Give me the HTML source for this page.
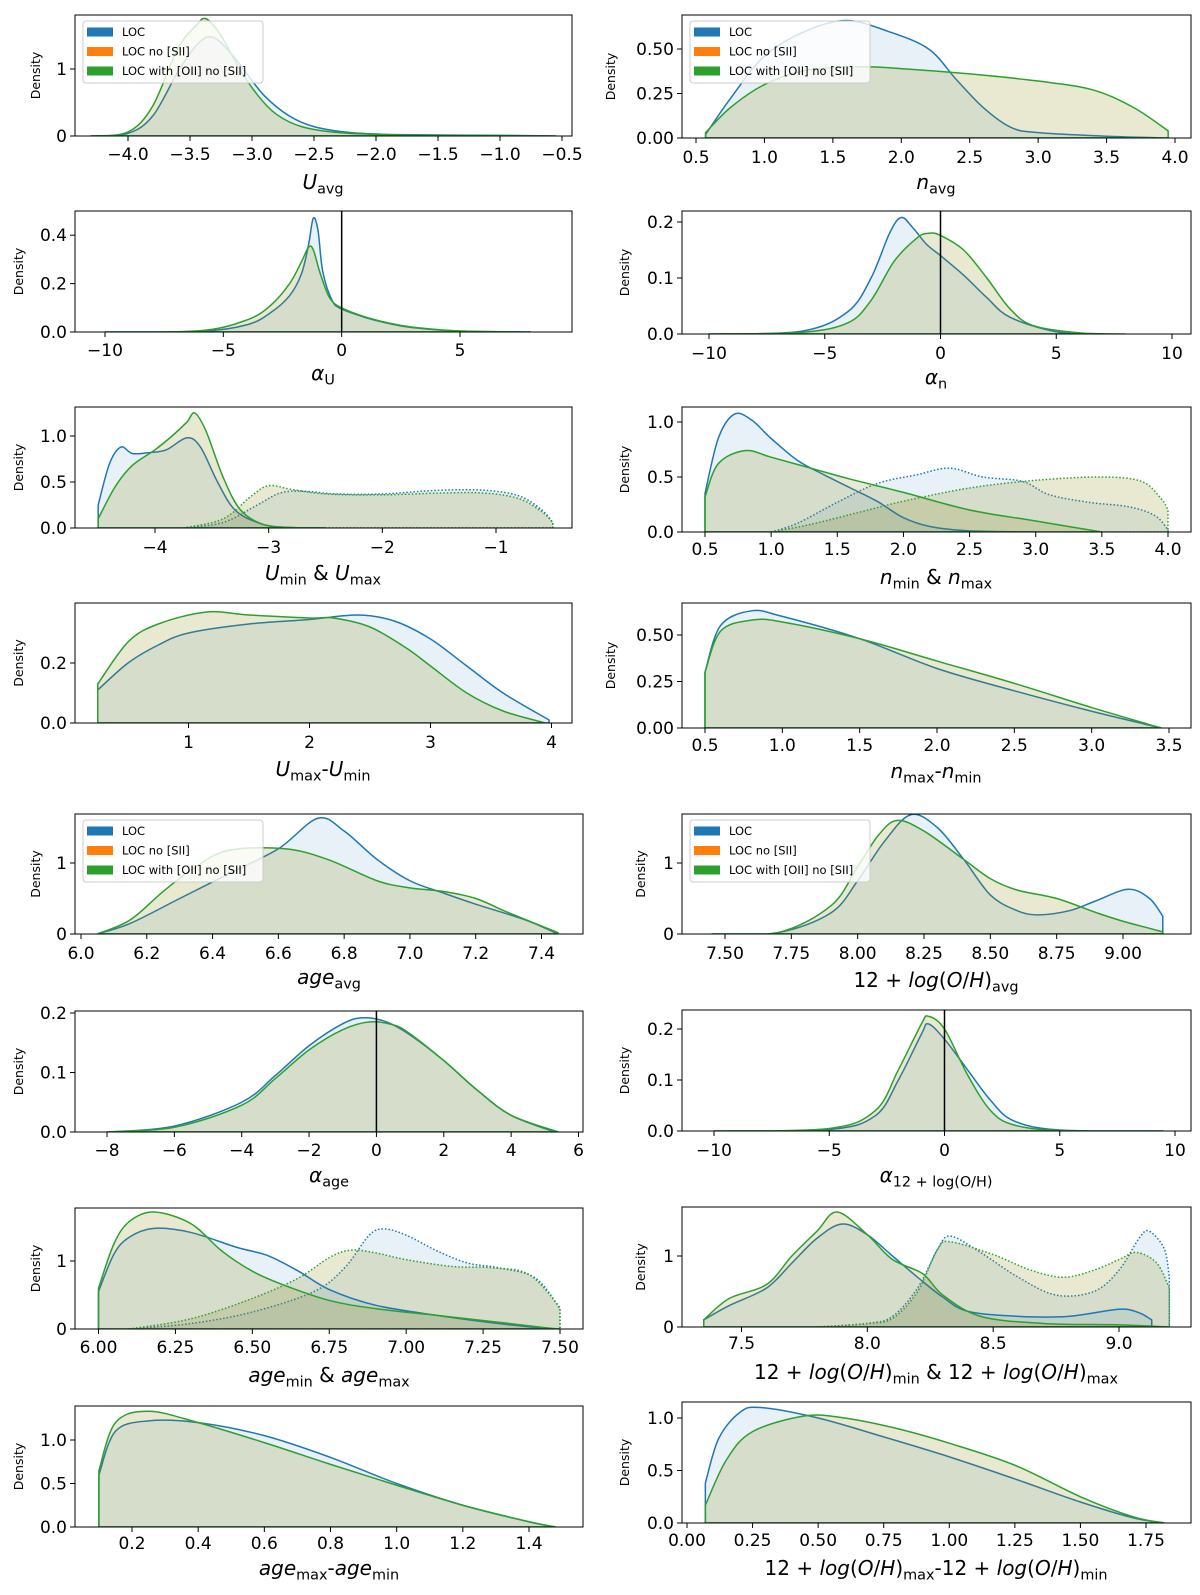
<!DOCTYPE html>
<html><head><meta charset="utf-8">
<style>
html,body{margin:0;padding:0;background:#fff;}
#wrap{position:relative;width:1200px;height:1595px;overflow:hidden;font-family:"DejaVu Sans","Liberation Sans",sans-serif;}
svg{position:absolute;left:0;top:0;}
.lbl{position:absolute;transform:translate(-50%,-50%);white-space:nowrap;font-size:20px;color:#000;}
.lbl sub{font-size:0.72em;vertical-align:-0.3em;line-height:0;}
.lbl i{font-style:oblique;}
</style></head>
<body><div id="wrap">
<svg id="chart" width="1200" height="1595"></svg>
<div class="lbl" style="left:323px;top:182px"><i>U</i><sub>avg</sub></div>
<div class="lbl" style="left:936px;top:182px"><i>n</i><sub>avg</sub></div>
<div class="lbl" style="left:323px;top:373px"><i>α</i><sub>U</sub></div>
<div class="lbl" style="left:936px;top:377px"><i>α</i><sub>n</sub></div>
<div class="lbl" style="left:323px;top:573px"><i>U</i><sub>min</sub> &amp; <i>U</i><sub>max</sub></div>
<div class="lbl" style="left:936px;top:577px"><i>n</i><sub>min</sub> &amp; <i>n</i><sub>max</sub></div>
<div class="lbl" style="left:323px;top:769px"><i>U</i><sub>max</sub>-<i>U</i><sub>min</sub></div>
<div class="lbl" style="left:936px;top:771px"><i>n</i><sub>max</sub>-<i>n</i><sub>min</sub></div>
<div class="lbl" style="left:329px;top:977px"><i>age</i><sub>avg</sub></div>
<div class="lbl" style="left:936px;top:980px">12 + <i>log</i>(<i>O</i>/<i>H</i>)<sub>avg</sub></div>
<div class="lbl" style="left:329px;top:1175px"><i>α</i><sub>age</sub></div>
<div class="lbl" style="left:936px;top:1175px"><i>α</i><sub>12 + log(O/H)</sub></div>
<div class="lbl" style="left:329px;top:1375px"><i>age</i><sub>min</sub> &amp; <i>age</i><sub>max</sub></div>
<div class="lbl" style="left:936px;top:1372px">12 + <i>log</i>(<i>O</i>/<i>H</i>)<sub>min</sub> &amp; 12 + <i>log</i>(<i>O</i>/<i>H</i>)<sub>max</sub></div>
<div class="lbl" style="left:329px;top:1568px"><i>age</i><sub>max</sub>-<i>age</i><sub>min</sub></div>
<div class="lbl" style="left:936px;top:1568px">12 + <i>log</i>(<i>O</i>/<i>H</i>)<sub>max</sub>-12 + <i>log</i>(<i>O</i>/<i>H</i>)<sub>min</sub></div>
</div>
<script>
// ---- data (x, density) pairs per curve ----
const uavgBlue=[[-4.3,0],[-4.0,0.04],[-3.8,0.3],[-3.6,0.95],[-3.45,1.35],[-3.33,1.48],[-3.2,1.3],[-3.05,0.95],[-2.9,0.6],[-2.7,0.3],[-2.5,0.14],[-2.2,0.05],[-1.8,0.02],[-1.0,0.01],[-0.55,0]];
const uavgGreen=[[-4.3,0],[-4.0,0.06],[-3.8,0.45],[-3.6,1.3],[-3.45,1.65],[-3.37,1.75],[-3.25,1.5],[-3.1,1.0],[-2.95,0.6],[-2.8,0.32],[-2.6,0.14],[-2.3,0.05],[-1.8,0.015],[-1.0,0.005],[-0.55,0]];
const alphaUBlue=[[-10,0],[-6,0.003],[-4,0.03],[-3,0.08],[-2.2,0.15],[-1.7,0.24],[-1.4,0.36],[-1.2,0.47],[-1.0,0.42],[-0.8,0.25],[-0.4,0.13],[0,0.095],[1,0.06],[2,0.035],[3,0.018],[5,0.004],[8,0]];
const alphaUGreen=[[-10,0],[-6,0.005],[-4,0.05],[-3,0.11],[-2.2,0.2],[-1.7,0.29],[-1.4,0.35],[-1.2,0.34],[-0.9,0.24],[-0.5,0.14],[0,0.1],[1,0.062],[2,0.037],[3,0.02],[5,0.004],[8,0]];
const uminBlue=[[-4.5,0.25],[-4.4,0.7],[-4.3,0.88],[-4.2,0.81],[-4.05,0.82],[-3.9,0.85],[-3.72,0.98],[-3.6,0.88],[-3.45,0.5],[-3.3,0.2],[-3.1,0.06],[-2.9,0.01],[-2.5,0]];
const uminGreen=[[-4.5,0.1],[-4.35,0.45],[-4.2,0.68],[-4.0,0.85],[-3.85,1.0],[-3.72,1.15],[-3.65,1.25],[-3.55,1.05],[-3.4,0.55],[-3.25,0.2],[-3.05,0.04],[-2.8,0.005],[-2.5,0]];
const umaxBlue=[[-3.75,0],[-3.4,0.06],[-3.1,0.25],[-2.9,0.38],[-2.7,0.4],[-2.4,0.37],[-2,0.37],[-1.5,0.41],[-1.1,0.41],[-0.8,0.35],[-0.6,0.2],[-0.5,0.06]];
const umaxGreen=[[-3.75,0],[-3.4,0.1],[-3.15,0.35],[-3.0,0.46],[-2.8,0.42],[-2.5,0.37],[-2,0.36],[-1.5,0.38],[-1.1,0.38],[-0.8,0.32],[-0.6,0.18],[-0.5,0.06]];
const udiffBlue=[[0.25,0.11],[0.5,0.2],[0.75,0.26],[1.0,0.3],[1.5,0.33],[2.0,0.345],[2.4,0.36],[2.7,0.34],[3.0,0.28],[3.3,0.19],[3.6,0.1],[3.98,0.01]];
const udiffGreen=[[0.25,0.13],[0.5,0.27],[0.75,0.33],[1.15,0.37],[1.5,0.36],[2.0,0.35],[2.2,0.35],[2.5,0.32],[2.8,0.25],[3.0,0.19],[3.3,0.1],[3.6,0.04],[3.95,0]];
const ageavgBlue=[[6.05,0],[6.15,0.15],[6.3,0.5],[6.45,0.85],[6.6,1.2],[6.72,1.63],[6.8,1.45],[6.9,1.05],[7.0,0.75],[7.1,0.58],[7.2,0.42],[7.35,0.2],[7.45,0]];
const ageavgGreen=[[6.05,0],[6.15,0.2],[6.25,0.6],[6.35,0.95],[6.45,1.18],[6.62,1.2],[6.75,1.05],[6.9,0.75],[7.0,0.65],[7.1,0.6],[7.2,0.5],[7.3,0.3],[7.45,0.02]];
const alphaAgeBlue=[[-8,0],[-6,0.01],[-4,0.05],[-3,0.095],[-2,0.145],[-1,0.182],[-0.4,0.192],[0.3,0.185],[1,0.163],[2,0.12],[3,0.07],[4,0.028],[5.3,0]];
const alphaAgeGreen=[[-8,0],[-6,0.008],[-4,0.045],[-3,0.09],[-2,0.138],[-1,0.172],[-0.2,0.185],[0.5,0.18],[1,0.165],[2,0.12],[3,0.07],[4,0.028],[5.4,0]];
const ageminBlue=[[6.0,0.55],[6.05,1.1],[6.1,1.35],[6.18,1.48],[6.3,1.42],[6.45,1.2],[6.55,1.08],[6.65,0.85],[6.75,0.58],[6.9,0.35],[7.1,0.2],[7.3,0.08],[7.45,0.01],[7.5,0]];
const ageminGreen=[[6.0,0.6],[6.05,1.25],[6.1,1.58],[6.18,1.72],[6.3,1.55],[6.4,1.15],[6.5,0.85],[6.6,0.65],[6.75,0.42],[6.9,0.3],[7.1,0.2],[7.3,0.1],[7.45,0.02],[7.5,0]];
const agemaxBlue=[[6.1,0],[6.3,0.08],[6.5,0.25],[6.7,0.55],[6.8,0.9],[6.88,1.38],[6.93,1.47],[7.0,1.38],[7.1,1.15],[7.2,0.97],[7.3,0.9],[7.42,0.75],[7.5,0.3]];
const agemaxGreen=[[6.1,0],[6.3,0.15],[6.5,0.45],[6.65,0.75],[6.75,1.05],[6.82,1.16],[6.9,1.12],[7.0,1.02],[7.15,0.92],[7.28,0.9],[7.4,0.8],[7.5,0.32]];
const agediffBlue=[[0.1,0.6],[0.15,1.1],[0.25,1.22],[0.4,1.2],[0.6,1.05],[0.8,0.8],[1.0,0.5],[1.2,0.25],[1.4,0.06],[1.48,0]];
const agediffGreen=[[0.1,0.65],[0.15,1.2],[0.25,1.33],[0.4,1.2],[0.6,0.97],[0.8,0.72],[1.0,0.48],[1.2,0.25],[1.4,0.06],[1.48,0]];
const navgBlue=[[0.57,0.02],[0.75,0.22],[1.0,0.46],[1.3,0.6],[1.6,0.66],[1.9,0.6],[2.2,0.5],[2.4,0.33],[2.6,0.17],[2.8,0.06],[3.0,0.03],[3.5,0.01],[3.95,0]];
const navgGreen=[[0.57,0.03],[0.75,0.17],[1.0,0.3],[1.3,0.38],[1.7,0.4],[2.0,0.39],[2.5,0.36],[3.0,0.32],[3.4,0.27],[3.7,0.17],[3.95,0.04]];
const alphaNBlue=[[-10,0],[-6,0.005],[-4,0.04],[-3,0.1],[-2.2,0.18],[-1.7,0.208],[-1.2,0.19],[-0.6,0.16],[0,0.14],[1,0.105],[2,0.065],[3,0.03],[5,0.004],[7,0]];
const alphaNGreen=[[-10,0],[-6,0.003],[-4,0.02],[-3,0.06],[-2,0.13],[-1,0.172],[-0.5,0.18],[0,0.176],[1,0.15],[2,0.1],[3,0.045],[4,0.015],[6,0.002],[8,0]];
const nminBlue=[[0.5,0.35],[0.6,0.85],[0.72,1.07],[0.85,1.02],[1.0,0.85],[1.2,0.65],[1.4,0.52],[1.6,0.4],[1.8,0.28],[2.0,0.13],[2.2,0.05],[2.5,0.01],[3.0,0]];
const nminGreen=[[0.5,0.32],[0.6,0.62],[0.8,0.74],[1.0,0.68],[1.3,0.58],[1.6,0.48],[2.0,0.36],[2.5,0.2],[3.0,0.1],[3.5,0]];
const nmaxBlue=[[1.0,0],[1.2,0.08],[1.5,0.27],[1.8,0.44],[2.1,0.52],[2.35,0.58],[2.6,0.5],[2.9,0.46],[3.1,0.34],[3.4,0.27],[3.7,0.23],[3.9,0.15],[4.0,0.02]];
const nmaxGreen=[[1.0,0],[1.3,0.07],[1.7,0.19],[2.0,0.28],[2.5,0.4],[3.0,0.47],[3.5,0.5],[3.8,0.46],[3.95,0.3],[4.0,0.2]];
const ndiffBlue=[[0.5,0.3],[0.6,0.55],[0.8,0.63],[1.0,0.6],[1.5,0.48],[2.0,0.32],[2.5,0.2],[3.0,0.09],[3.45,0]];
const ndiffGreen=[[0.5,0.3],[0.6,0.52],[0.8,0.58],[1.0,0.57],[1.5,0.48],[2.0,0.36],[2.5,0.24],[3.0,0.11],[3.45,0]];
const ohavgBlue=[[7.45,0],[7.7,0.02],[7.9,0.3],[8.0,0.75],[8.1,1.3],[8.2,1.68],[8.3,1.5],[8.4,1.05],[8.5,0.55],[8.6,0.33],[8.68,0.27],[8.8,0.33],[8.9,0.47],[9.02,0.63],[9.1,0.5],[9.15,0.25]];
const ohavgGreen=[[7.45,0],[7.7,0.02],[7.9,0.4],[8.0,0.95],[8.08,1.4],[8.15,1.6],[8.25,1.45],[8.4,1.05],[8.5,0.78],[8.6,0.62],[8.75,0.5],[8.9,0.3],[9.0,0.18],[9.15,0.03]];
const alphaOHBlue=[[-10,0],[-5,0.003],[-3,0.03],[-2,0.1],[-1,0.19],[-0.7,0.21],[0,0.18],[1,0.12],[2,0.06],[3,0.02],[5,0.002],[9.5,0]];
const alphaOHGreen=[[-10,0],[-5,0.005],[-3,0.04],[-2,0.12],[-1,0.21],[-0.7,0.225],[0,0.2],[1,0.11],[2,0.04],[3,0.012],[5,0.001],[9.5,0]];
const ohminBlue=[[7.35,0.1],[7.45,0.3],[7.6,0.55],[7.7,0.9],[7.8,1.25],[7.9,1.45],[8.0,1.3],[8.1,1.0],[8.2,0.7],[8.3,0.42],[8.4,0.22],[8.6,0.15],[8.8,0.15],[9.0,0.25],[9.08,0.2],[9.13,0.1]];
const ohminGreen=[[7.35,0.1],[7.45,0.4],[7.6,0.6],[7.7,1.0],[7.8,1.35],[7.88,1.62],[8.0,1.3],[8.1,0.95],[8.22,0.75],[8.3,0.45],[8.45,0.15],[8.7,0.05],[9.0,0.03],[9.2,0]];
const ohmaxBlue=[[7.8,0],[8.0,0.05],[8.1,0.15],[8.2,0.55],[8.28,1.1],[8.33,1.28],[8.45,1.05],[8.6,0.7],[8.75,0.45],[8.9,0.5],[9.0,0.8],[9.08,1.25],[9.12,1.35],[9.18,1.1],[9.2,0.7]];
const ohmaxGreen=[[7.8,0],[8.0,0.05],[8.1,0.12],[8.2,0.5],[8.28,1.1],[8.33,1.2],[8.5,1.02],[8.65,0.8],[8.78,0.7],[8.9,0.8],[9.0,0.95],[9.07,1.05],[9.15,0.9],[9.2,0.55]];
const ohdiffBlue=[[0.07,0.38],[0.12,0.8],[0.2,1.05],[0.28,1.1],[0.5,1.0],[0.75,0.82],[1.0,0.63],[1.25,0.42],[1.5,0.2],[1.7,0.05],[1.82,0]];
const ohdiffGreen=[[0.07,0.17],[0.15,0.6],[0.25,0.87],[0.45,1.02],[0.6,1.0],[0.8,0.9],[1.0,0.76],[1.25,0.55],[1.5,0.25],[1.7,0.06],[1.82,0]];
// tick values
const tU=[-4.0,-3.5,-3.0,-2.5,-2.0,-1.5,-1.0,-0.5], tUy=[0,1];
const tAU=[-10,-5,0,5], tAUy=[0.0,0.2,0.4];
const tUm=[-4,-3,-2,-1], tUmy=[0.0,0.5,1.0];
const tUd=[1,2,3,4], tUdy=[0.0,0.2];
const tAge=[6.0,6.2,6.4,6.6,6.8,7.0,7.2,7.4], tAgey=[0,1];
const tAA=[-8,-6,-4,-2,0,2,4,6], tAAy=[0.0,0.1,0.2];
const tAm=[6.00,6.25,6.50,6.75,7.00,7.25,7.50], tAmy=[0,1];
const tAd=[0.2,0.4,0.6,0.8,1.0,1.2,1.4], tAdy=[0.0,0.5,1.0];
const tN=[0.5,1.0,1.5,2.0,2.5,3.0,3.5,4.0], tNy=[0.00,0.25,0.50];
const tAN=[-10,-5,0,5,10], tANy=[0.0,0.1,0.2];
const tNm=[0.5,1.0,1.5,2.0,2.5,3.0,3.5,4.0], tNmy=[0.0,0.5,1.0];
const tNd=[0.5,1.0,1.5,2.0,2.5,3.0,3.5], tNdy=[0.00,0.25,0.50];
const tOH=[7.50,7.75,8.00,8.25,8.50,8.75,9.00], tOHy=[0,1];
const tAO=[-10,-5,0,5,10], tAOy=[0.0,0.1,0.2];
const tOm=[7.5,8.0,8.5,9.0], tOmy=[0,1];
const tOd=[0.00,0.25,0.50,0.75,1.00,1.25,1.50,1.75], tOdy=[0.0,0.5,1.0];

const NS='http://www.w3.org/2000/svg';
const svg=document.getElementById('chart');
const BLUE='#1f77b4',ORANGE='#ff7f0e',GREEN='#2ca02c';
function mk(tag,attrs,parent){const e=document.createElementNS(NS,tag);for(const k in attrs)e.setAttribute(k,attrs[k]);(parent||svg).appendChild(e);return e;}
function fmt(v,d){const s=Math.abs(v).toFixed(d);return (v<0?'\u2212':'')+s;}
function smooth(P){let d='M'+P[0][0].toFixed(2)+','+P[0][1].toFixed(2);
  for(let i=0;i<P.length-1;i++){const p0=P[Math.max(i-1,0)],p1=P[i],p2=P[i+1],p3=P[Math.min(i+2,P.length-1)];
    const c1x=p1[0]+(p2[0]-p0[0])/6,c1y=p1[1]+(p2[1]-p0[1])/6,c2x=p2[0]-(p3[0]-p1[0])/6,c2y=p2[1]-(p3[1]-p1[1])/6;
    d+=' C'+c1x.toFixed(2)+','+Math.min(c1y,9999).toFixed(2)+' '+c2x.toFixed(2)+','+c2y.toFixed(2)+' '+p2[0].toFixed(2)+','+p2[1].toFixed(2);}
  return d;}
function panel(c){
  const [L,T,R,B]=c.box;
  const g=mk('g',{});
  
  
  const sx=(c.xr[3]-c.xr[1])/(c.xr[2]-c.xr[0]);
  const X=v=>c.xr[1]+(v-c.xr[0])*sx;
  const Y=v=>B-v*c.ys;
  const cp='cp'+c.name; const clip=mk('clipPath',{id:cp},g); mk('rect',{x:L,y:T,width:R-L,height:B-T},clip);
  const cg=mk('g',{'clip-path':'url(#'+cp+')'},g);
  c.curves.forEach(cv=>{
    const P=cv.data.map(p=>[X(p[0]),Y(p[1])]);
    const line=smooth(P);
    const fill=line+' L'+P[P.length-1][0].toFixed(2)+','+B+' L'+P[0][0].toFixed(2)+','+B+' Z';
    const cols=cv.c==='b'?[BLUE]:[ORANGE,GREEN];
    cols.forEach(col=>{const f=mk('path',{d:fill,fill:col,'fill-opacity':0.1,stroke:'none'},cg);
      
      });
    const ln=mk('path',{d:fill,fill:'none',stroke:cv.c==='b'?BLUE:GREEN,'stroke-width':1.5,'stroke-dasharray':cv.dot?'1.5,2':'none'},cg);
    
    
  });
  if(c.vline){const v=mk('line',{x1:X(0),x2:X(0),y1:T,y2:B,stroke:'#000','stroke-width':1.5},g);
    
    }
  const fr=mk('rect',{x:L,y:T,width:R-L,height:B-T,fill:'none',stroke:'#000','stroke-width':1},g);
  
  
  c.xt.forEach(v=>{const x=X(v);mk('line',{x1:x,x2:x,y1:B,y2:B+5,stroke:'#000'},g);
    const t=mk('text',{x:x,y:c.txy+6,'text-anchor':'middle','font-size':17},g);t.textContent=fmt(v,c.xd);
    
    });
  c.yt.forEach(v=>{const y=Y(v);mk('line',{x1:L-5,x2:L,y1:y,y2:y,stroke:'#000'},g);
    const t=mk('text',{x:L-8,y:y+6,'text-anchor':'end','font-size':17},g);t.textContent=fmt(v,c.yd);
    
    });
  const dy=(T+B)/2;
  const dl=mk('text',{x:c.dx,y:dy,'text-anchor':'middle','font-size':12.5,transform:'rotate(-90 '+c.dx+' '+dy+')'},g);
  dl.textContent='Density';
  
  
  if(c.legend){const lx=L+8,ly=T+6;
    const lb=mk('rect',{x:lx,y:ly,width:180,height:62,rx:3,fill:'#fff','fill-opacity':0.8,stroke:'#ccc'},g);
    
    
    [['LOC',BLUE],['LOC no [SII]',ORANGE],['LOC with [OII] no [SII]',GREEN]].forEach((e,i)=>{
      const yy=ly+11+i*19.5;
      mk('rect',{x:lx+4,y:yy-4.5,width:26,height:9,fill:e[1]},g);
      const t=mk('text',{x:lx+39,y:yy+4,'font-size':11.5},g);t.textContent=e[0];
      
      });}
}
const Lb=[75,0,572,0], Rb=[682,0,1191,0];
panel({name:'panel-uavg',box:[75,15,572,136],xr:[-4.0,128,-0.5,562],ys:67,xt:tU,xd:1,yt:tUy,yd:0,txy:154,dx:40,legend:1,
  curves:[{data:uavgBlue,c:'b',name:'loc-curve'},{data:uavgGreen,c:'g',name:'loc-oii-curve'}]});
panel({name:'panel-navg',box:[682,15,1191,138],xr:[0.5,696,4.0,1175],ys:178,xt:tN,xd:1,yt:tNy,yd:2,txy:157,dx:615,legend:1,
  curves:[{data:navgBlue,c:'b',name:'loc-curve'},{data:navgGreen,c:'g',name:'loc-oii-curve'}]});
panel({name:'panel-alpha-u',box:[75,211,572,332],xr:[-10,105,5,460],ys:242,xt:tAU,xd:0,yt:tAUy,yd:1,txy:350,dx:23,vline:1,
  curves:[{data:alphaUBlue,c:'b',name:'loc-curve'},{data:alphaUGreen,c:'g',name:'loc-oii-curve'}]});
panel({name:'panel-alpha-n',box:[682,211,1191,334],xr:[-10,709,10,1172],ys:560,xt:tAN,xd:0,yt:tANy,yd:1,txy:353,dx:629,vline:1,
  curves:[{data:alphaNBlue,c:'b',name:'loc-curve'},{data:alphaNGreen,c:'g',name:'loc-oii-curve'}]});
panel({name:'panel-umin-umax',box:[75,407,572,528],xr:[-4,155,-1,496],ys:92,xt:tUm,xd:0,yt:tUmy,yd:1,txy:547,dx:23,
  curves:[{data:umaxBlue,c:'b',dot:1,name:'loc-max-curve'},{data:umaxGreen,c:'g',dot:1,name:'loc-oii-max-curve'},{data:uminBlue,c:'b',name:'loc-min-curve'},{data:uminGreen,c:'g',name:'loc-oii-min-curve'}]});
panel({name:'panel-nmin-nmax',box:[682,407,1191,532],xr:[0.5,705,4.0,1168],ys:110,xt:tNm,xd:1,yt:tNmy,yd:1,txy:549,dx:629,
  curves:[{data:nmaxBlue,c:'b',dot:1,name:'loc-max-curve'},{data:nmaxGreen,c:'g',dot:1,name:'loc-oii-max-curve'},{data:nminBlue,c:'b',name:'loc-min-curve'},{data:nminGreen,c:'g',name:'loc-oii-min-curve'}]});
panel({name:'panel-udiff',box:[75,603,572,723],xr:[1,188.5,4,551.5],ys:300,xt:tUd,xd:0,yt:tUdy,yd:1,txy:742,dx:23,
  curves:[{data:udiffBlue,c:'b',name:'loc-curve'},{data:udiffGreen,c:'g',name:'loc-oii-curve'}]});
panel({name:'panel-ndiff',box:[682,603,1191,728],xr:[0.5,705,3.5,1169],ys:186,xt:tNd,xd:1,yt:tNdy,yd:2,txy:745,dx:615,
  curves:[{data:ndiffBlue,c:'b',name:'loc-curve'},{data:ndiffGreen,c:'g',name:'loc-oii-curve'}]});
panel({name:'panel-ageavg',box:[75,814,583,934],xr:[6.0,81,7.4,541.5],ys:71,xt:tAge,xd:1,yt:tAgey,yd:0,txy:953,dx:40,legend:1,
  curves:[{data:ageavgBlue,c:'b',name:'loc-curve'},{data:ageavgGreen,c:'g',name:'loc-oii-curve'}]});
panel({name:'panel-ohavg',box:[682,814,1191,934],xr:[7.5,725,9.0,1123],ys:71,xt:tOH,xd:2,yt:tOHy,yd:0,txy:953,dx:645,legend:1,
  curves:[{data:ohavgBlue,c:'b',name:'loc-curve'},{data:ohavgGreen,c:'g',name:'loc-oii-curve'}]});
panel({name:'panel-alpha-age',box:[75,1011,583,1132],xr:[-8,107,6,578.5],ys:595,xt:tAA,xd:0,yt:tAAy,yd:1,txy:1150,dx:23,vline:1,
  curves:[{data:alphaAgeBlue,c:'b',name:'loc-curve'},{data:alphaAgeGreen,c:'g',name:'loc-oii-curve'}]});
panel({name:'panel-alpha-oh',box:[682,1010,1191,1131],xr:[-10,714,10,1175],ys:510,xt:tAO,xd:0,yt:tAOy,yd:1,txy:1150,dx:629,vline:1,
  curves:[{data:alphaOHBlue,c:'b',name:'loc-curve'},{data:alphaOHGreen,c:'g',name:'loc-oii-curve'}]});
panel({name:'panel-agemin-agemax',box:[75,1208,583,1329],xr:[6.0,98.5,7.5,560],ys:68,xt:tAm,xd:2,yt:tAmy,yd:0,txy:1347,dx:40,
  curves:[{data:agemaxBlue,c:'b',dot:1,name:'loc-max-curve'},{data:agemaxGreen,c:'g',dot:1,name:'loc-oii-max-curve'},{data:ageminBlue,c:'b',name:'loc-min-curve'},{data:ageminGreen,c:'g',name:'loc-oii-min-curve'}]});
panel({name:'panel-ohmin-ohmax',box:[682,1207,1191,1327],xr:[7.5,741.5,9.0,1119],ys:71,xt:tOm,xd:1,yt:tOmy,yd:0,txy:1343,dx:645,
  curves:[{data:ohmaxBlue,c:'b',dot:1,name:'loc-max-curve'},{data:ohmaxGreen,c:'g',dot:1,name:'loc-oii-max-curve'},{data:ohminBlue,c:'b',name:'loc-min-curve'},{data:ohminGreen,c:'g',name:'loc-oii-min-curve'}]});
panel({name:'panel-agediff',box:[75,1406,583,1527],xr:[0.2,132,1.4,529],ys:87,xt:tAd,xd:1,yt:tAdy,yd:1,txy:1543,dx:23,
  curves:[{data:agediffBlue,c:'b',name:'loc-curve'},{data:agediffGreen,c:'g',name:'loc-oii-curve'}]});
panel({name:'panel-ohdiff',box:[682,1402,1191,1523],xr:[0.0,687,1.75,1146],ys:105,xt:tOd,xd:2,yt:tOdy,yd:1,txy:1540,dx:629,
  curves:[{data:ohdiffBlue,c:'b',name:'loc-curve'},{data:ohdiffGreen,c:'g',name:'loc-oii-curve'}]});
</script>
</body></html>
